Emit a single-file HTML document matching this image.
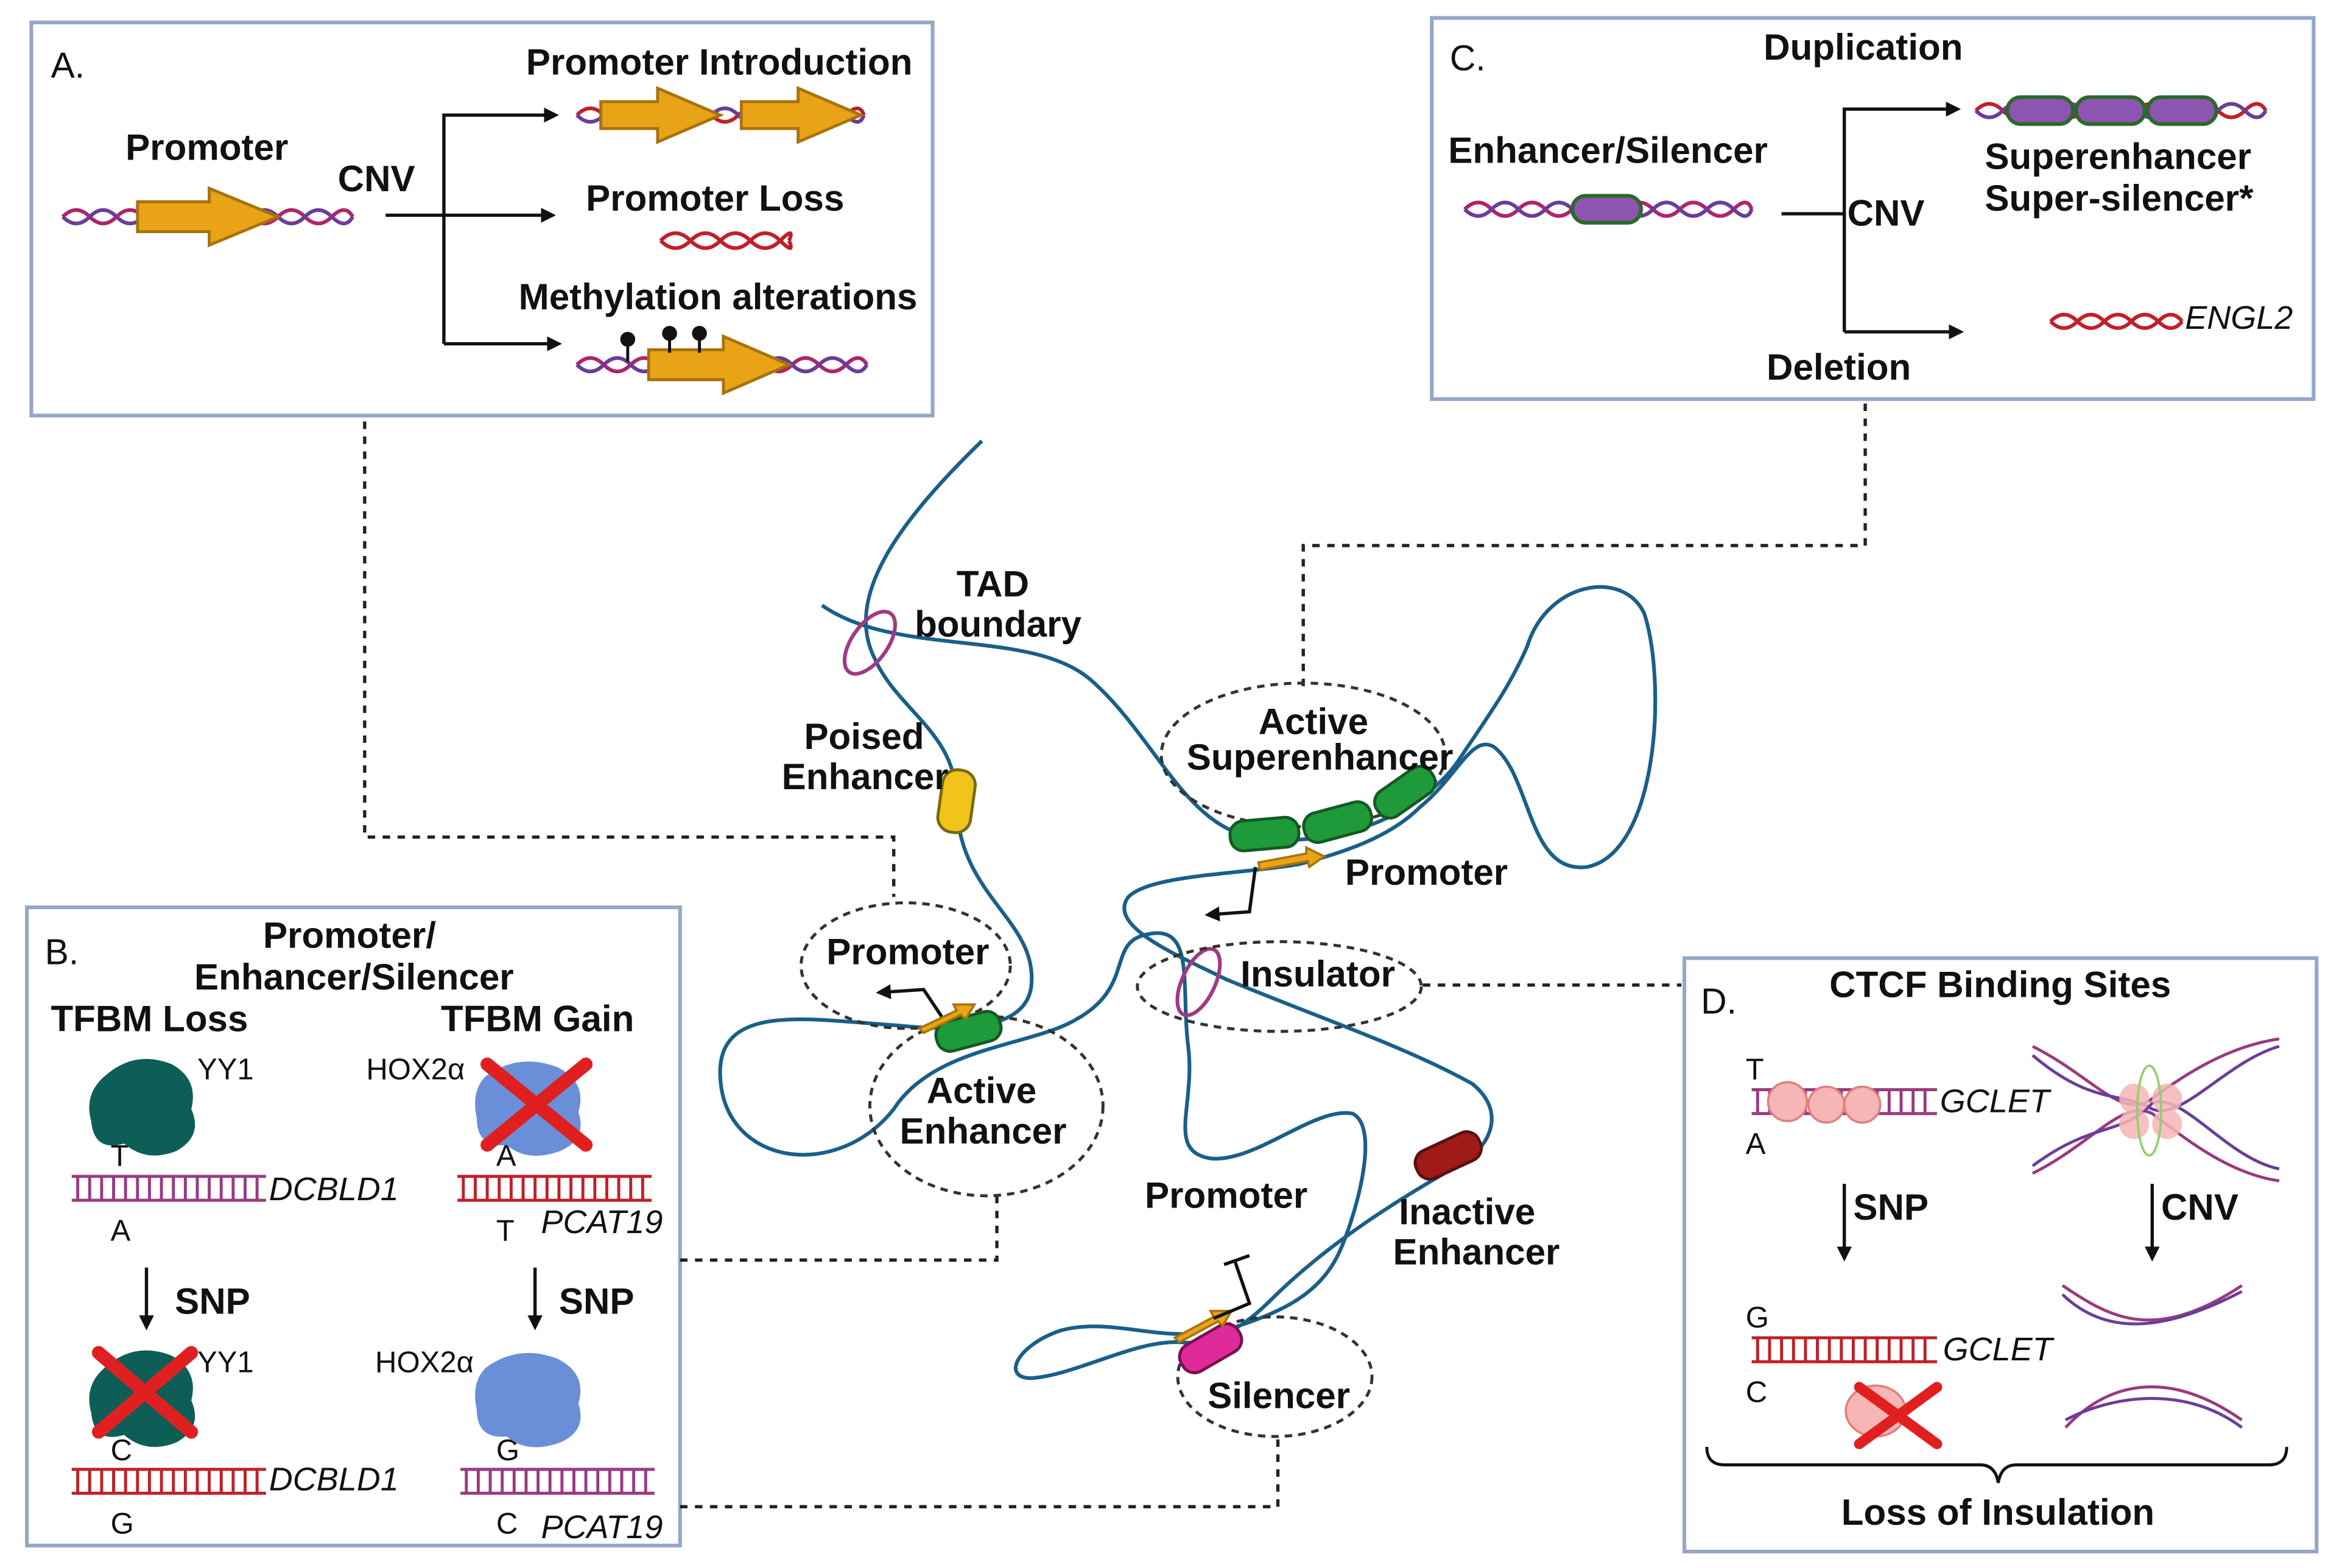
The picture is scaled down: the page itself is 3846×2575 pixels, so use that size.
<!DOCTYPE html>
<html><head><meta charset="utf-8">
<style>
html,body{margin:0;padding:0;background:#fff;}
svg{display:block;}
text{font-family:"Liberation Sans",sans-serif;fill:#111;}
.b{font-weight:bold;font-size:24.5px;}
.r{font-size:20px;}
.i{font-style:italic;font-size:22px;}
</style></head><body>
<svg width="3846" height="2575" viewBox="0 0 1567 1049" preserveAspectRatio="none" xmlns="http://www.w3.org/2000/svg">
<defs>
<marker id="ah" markerWidth="10" markerHeight="10" refX="8" refY="5" orient="auto" markerUnits="userSpaceOnUse"><path d="M0,0 L10,5 L0,10 z" fill="#111"/></marker>
</defs>
<rect width="1567" height="1049" fill="#fff"/>

<g fill="none" stroke="#95a7c9" stroke-width="2.5">
<rect x="21" y="15" width="603" height="263"/>
<rect x="18" y="607" width="437" height="427"/>
<rect x="958" y="12" width="590" height="255"/>
<rect x="1127" y="641" width="423" height="397"/>
</g>

<g fill="none" stroke="#222" stroke-width="2.2" stroke-dasharray="5,5">
<path d="M244,282 V560 H598 V600"/>
<path d="M455,843 H667 V800"/>
<path d="M455,1008 H855 V960"/>
<path d="M1248,270 V365 H872 V460"/>
<path d="M952,659 H1125"/>
</g>

<!-- ===== Box A ===== -->
<text x="34" y="52" class="r" style="font-size:24px">A.</text>
<text x="352" y="50" class="b">Promoter Introduction</text>
<text x="84" y="107" class="b">Promoter</text>
<text x="226" y="128" class="b">CNV</text>
<text x="392" y="141" class="b">Promoter Loss</text>
<text x="347" y="207" class="b">Methylation alterations</text>
<g fill="none" stroke-width="2.5">
<path d="M42,145 q9,-9 18,0 t18,0 t18,0 t18,0 t18,0 t18,0 t18,0 t18,0 t18,0 t18,0 t14,0" stroke="#b0246a"/>
<path d="M42,145 q9,9 18,0 t18,0 t18,0 t18,0 t18,0 t18,0 t18,0 t18,0 t18,0 t18,0 t14,0" stroke="#6a3d9a"/>
</g>
<path d="M92,135 H140 V126 L186,145 L140,164 V155 H92 z" fill="#e8a317" stroke="#a8720c" stroke-width="2"/>
<g fill="none" stroke="#111" stroke-width="2.2">
<path d="M258,144 H370" marker-end="url(#ah)"/>
<path d="M297,230 V77 H372" marker-end="url(#ah)"/>
<path d="M297,230 H374" marker-end="url(#ah)"/>
</g>
<g fill="none" stroke-width="2.5">
<path d="M386,77 q9,-9 18,0 t18,0 t18,0 t18,0 t18,0 t18,0 t18,0 t18,0 t18,0 t18,0 t12,0" stroke="#c0202a"/>
<path d="M386,77 q9,9 18,0 t18,0 t18,0 t18,0 t18,0 t18,0 t18,0 t18,0 t18,0 t18,0 t12,0" stroke="#6a3d9a"/>
</g>
<path d="M402,68 H440 V59 L482,77 L440,95 V86 H402 z" fill="#e8a317" stroke="#a8720c" stroke-width="2"/>
<path d="M496,68 H534 V59 L576,77 L534,95 V86 H496 z" fill="#e8a317" stroke="#a8720c" stroke-width="2"/>
<g fill="none" stroke="#c0202a" stroke-width="2.5">
<path d="M442,161 q10,-10 20,0 t20,0 t20,0 t20,0 t6,0"/>
<path d="M442,161 q10,10 20,0 t20,0 t20,0 t20,0 t6,0"/>
</g>
<g fill="none" stroke-width="2.5">
<path d="M386,244 q9,-9 18,0 t18,0 t18,0 t18,0 t18,0 t18,0 t18,0 t18,0 t18,0 t18,0 t14,0" stroke="#b0246a"/>
<path d="M386,244 q9,9 18,0 t18,0 t18,0 t18,0 t18,0 t18,0 t18,0 t18,0 t18,0 t18,0 t14,0" stroke="#6a3d9a"/>
</g>
<path d="M434,234 H484 V225 L528,244 L484,263 V254 H434 z" fill="#e8a317" stroke="#a8720c" stroke-width="2"/>
<g stroke="#111" stroke-width="2"><line x1="420" y1="228" x2="420" y2="242"/><line x1="448" y1="225" x2="448" y2="236"/><line x1="468" y1="225" x2="468" y2="236"/></g>
<g fill="#111"><circle cx="420" cy="227" r="5"/><circle cx="448" cy="223" r="5"/><circle cx="468" cy="223" r="5"/></g>

<!-- ===== Box C ===== -->
<text x="970" y="47" class="r" style="font-size:24px">C.</text>
<text x="1180" y="40" class="b">Duplication</text>
<text x="969" y="109" class="b">Enhancer/Silencer</text>
<text x="1236" y="151" class="b">CNV</text>
<text x="1328" y="113" class="b">Superenhancer</text>
<text x="1328" y="141" class="b">Super-silencer*</text>
<text x="1182" y="254" class="b">Deletion</text>
<text x="1462" y="220" class="i">ENGL2</text>
<g fill="none" stroke-width="2.5">
<path d="M980,140 q9,-9 18,0 t18,0 t18,0 t18,0 t18,0 t18,0 t18,0 t18,0 t18,0 t18,0 t12,0" stroke="#b0246a"/>
<path d="M980,140 q9,9 18,0 t18,0 t18,0 t18,0 t18,0 t18,0 t18,0 t18,0 t18,0 t18,0 t12,0" stroke="#6a3d9a"/>
<path d="M1322,74 q9,-9 18,0 t18,0 t18,0 t18,0 t18,0 t18,0 t18,0 t18,0 t18,0 t18,0 t14,0" stroke="#c0202a"/>
<path d="M1322,74 q9,9 18,0 t18,0 t18,0 t18,0 t18,0 t18,0 t18,0 t18,0 t18,0 t18,0 t14,0" stroke="#6a3d9a"/>
<path d="M1372,215 q9,-9 18,0 t18,0 t18,0 t18,0 t16,0" stroke="#c0202a"/>
<path d="M1372,215 q9,9 18,0 t18,0 t18,0 t18,0 t16,0" stroke="#c0202a"/>
</g>
<rect x="1052" y="131" width="46" height="18" rx="9" fill="#8e55b0" stroke="#2a6a2a" stroke-width="2.5"/>
<rect x="1343" y="65" width="44" height="18" rx="9" fill="#8e55b0" stroke="#2a6a2a" stroke-width="2.5"/>
<rect x="1389" y="65" width="46" height="18" rx="9" fill="#8e55b0" stroke="#2a6a2a" stroke-width="2.5"/>
<rect x="1437" y="65" width="46" height="18" rx="9" fill="#8e55b0" stroke="#2a6a2a" stroke-width="2.5"/>
<g fill="none" stroke="#111" stroke-width="2.2">
<path d="M1192,143 H1234"/>
<path d="M1234,222 V73 H1310" marker-end="url(#ah)"/>
<path d="M1234,222 H1312" marker-end="url(#ah)"/>
</g>

<!-- ===== Box B ===== -->
<text x="30" y="645" class="r" style="font-size:24px">B.</text>
<text x="176" y="634" class="b">Promoter/</text>
<text x="130" y="662" class="b">Enhancer/Silencer</text>
<text x="34" y="690" class="b">TFBM Loss</text>
<text x="295" y="690" class="b">TFBM Gain</text>
<text x="132" y="722" class="r">YY1</text>
<text x="245" y="722" class="r">HOX2α</text>
<text x="74" y="780" class="r">T</text>
<text x="74" y="830" class="r">A</text>
<text x="332" y="780" class="r">A</text>
<text x="332" y="830" class="r">T</text>
<text x="180" y="803" class="i">DCBLD1</text>
<text x="362" y="825" class="i">PCAT19</text>
<text x="117" y="879" class="b">SNP</text>
<text x="374" y="879" class="b">SNP</text>
<text x="132" y="918" class="r">YY1</text>
<text x="251" y="918" class="r">HOX2α</text>
<text x="74" y="977" class="r">C</text>
<text x="74" y="1026" class="r">G</text>
<text x="332" y="977" class="r">G</text>
<text x="332" y="1026" class="r">C</text>
<text x="180" y="997" class="i">DCBLD1</text>
<text x="362" y="1029" class="i">PCAT19</text>
<g stroke-width="2">
<g stroke="#9a3a80"><line x1="48" y1="787" x2="178" y2="787"/><line x1="48" y1="803" x2="178" y2="803"/><path d="M52,787 V803 M60,787 V803 M68,787 V803 M76,787 V803 M84,787 V803 M92,787 V803 M100,787 V803 M108,787 V803 M116,787 V803 M124,787 V803 M132,787 V803 M140,787 V803 M148,787 V803 M156,787 V803 M164,787 V803 M172,787 V803"/></g>
<g stroke="#c0202a"><line x1="306" y1="787" x2="436" y2="787"/><line x1="306" y1="803" x2="436" y2="803"/><path d="M310,787 V803 M318,787 V803 M326,787 V803 M334,787 V803 M342,787 V803 M350,787 V803 M358,787 V803 M366,787 V803 M374,787 V803 M382,787 V803 M390,787 V803 M398,787 V803 M406,787 V803 M414,787 V803 M422,787 V803 M430,787 V803"/></g>
<g stroke="#c0202a"><line x1="48" y1="983" x2="178" y2="983"/><line x1="48" y1="999" x2="178" y2="999"/><path d="M52,983 V999 M60,983 V999 M68,983 V999 M76,983 V999 M84,983 V999 M92,983 V999 M100,983 V999 M108,983 V999 M116,983 V999 M124,983 V999 M132,983 V999 M140,983 V999 M148,983 V999 M156,983 V999 M164,983 V999 M172,983 V999"/></g>
<g stroke="#9a3a80"><line x1="308" y1="983" x2="438" y2="983"/><line x1="308" y1="999" x2="438" y2="999"/><path d="M312,983 V999 M320,983 V999 M328,983 V999 M336,983 V999 M344,983 V999 M352,983 V999 M360,983 V999 M368,983 V999 M376,983 V999 M384,983 V999 M392,983 V999 M400,983 V999 M408,983 V999 M416,983 V999 M424,983 V999 M432,983 V999"/></g>
</g>
<path d="M70,720 q20,-18 45,-8 q18,10 13,30 q8,18 -10,28 q-20,8 -35,-5 q-20,6 -22,-15 q-5,-18 9,-30z" fill="#0d5e57"/>
<path d="M325,720 q22,-16 48,-6 q20,10 14,30 q6,18 -12,26 q-22,8 -36,-4 q-20,2 -20,-18 q-4,-18 6,-28z" fill="#6a8fd8"/>
<path d="M70,915 q20,-18 45,-8 q18,10 13,30 q8,18 -10,28 q-20,8 -35,-5 q-20,6 -22,-15 q-5,-18 9,-30z" fill="#0d5e57"/>
<path d="M325,915 q22,-16 48,-6 q20,10 14,30 q6,18 -12,26 q-22,8 -36,-4 q-20,2 -20,-18 q-4,-18 6,-28z" fill="#6a8fd8"/>
<g stroke="#e02020" stroke-width="9" stroke-linecap="round">
<line x1="326" y1="712" x2="392" y2="766"/><line x1="392" y1="712" x2="326" y2="766"/>
<line x1="66" y1="905" x2="128" y2="958"/><line x1="128" y1="905" x2="66" y2="958"/>
</g>
<g stroke="#111" stroke-width="2.2">
<line x1="98" y1="848" x2="98" y2="888" marker-end="url(#ah)"/>
<line x1="358" y1="848" x2="358" y2="888" marker-end="url(#ah)"/>
</g>

<!-- ===== Box D ===== -->
<text x="1138" y="678" class="r" style="font-size:24px">D.</text>
<text x="1224" y="667" class="b">CTCF Binding Sites</text>
<text x="1168" y="722" class="r">T</text>
<text x="1168" y="772" class="r">A</text>
<text x="1298" y="744" class="i">GCLET</text>
<text x="1240" y="816" class="b">SNP</text>
<text x="1446" y="816" class="b">CNV</text>
<text x="1168" y="888" class="r">G</text>
<text x="1168" y="938" class="r">C</text>
<text x="1300" y="910" class="i">GCLET</text>
<text x="1232" y="1020" class="b">Loss of Insulation</text>
<g stroke-width="2">
<g stroke="#9a3a80"><line x1="1172" y1="729" x2="1296" y2="729"/><line x1="1172" y1="745" x2="1296" y2="745"/><path d="M1176,729 V745 M1184,729 V745 M1192,729 V745 M1200,729 V745 M1208,729 V745 M1216,729 V745 M1224,729 V745 M1232,729 V745 M1240,729 V745 M1248,729 V745 M1256,729 V745 M1264,729 V745 M1272,729 V745 M1280,729 V745 M1288,729 V745"/></g>
<g stroke="#c0202a"><line x1="1172" y1="895" x2="1296" y2="895"/><line x1="1172" y1="911" x2="1296" y2="911"/><path d="M1176,895 V911 M1184,895 V911 M1192,895 V911 M1200,895 V911 M1208,895 V911 M1216,895 V911 M1224,895 V911 M1232,895 V911 M1240,895 V911 M1248,895 V911 M1256,895 V911 M1264,895 V911 M1272,895 V911 M1280,895 V911 M1288,895 V911"/></g>
</g>
<g fill="#f6b6b6" stroke="#e08080" stroke-width="1.5">
<circle cx="1196" cy="737" r="13"/><circle cx="1222" cy="739" r="12"/><circle cx="1246" cy="739" r="12"/>
<ellipse cx="1255" cy="944" rx="20" ry="17"/>
</g>
<g stroke="#e02020" stroke-width="7" stroke-linecap="round">
<line x1="1244" y1="928" x2="1296" y2="966"/><line x1="1296" y1="928" x2="1244" y2="966"/>
</g>
<g stroke="#111" stroke-width="2.2">
<line x1="1234" y1="792" x2="1234" y2="842" marker-end="url(#ah)"/>
<line x1="1440" y1="792" x2="1440" y2="842" marker-end="url(#ah)"/>
</g>
<g fill="none" stroke-width="2">
<path d="M1360,700 C1400,720 1420,750 1440,735 C1460,720 1490,700 1525,695" stroke="#9a3a80"/>
<path d="M1360,706 C1400,740 1420,730 1440,742 C1460,750 1490,710 1525,700" stroke="#6a3d9a"/>
<path d="M1360,785 C1400,765 1420,735 1440,745 C1460,760 1490,785 1525,790" stroke="#9a3a80"/>
<path d="M1360,780 C1400,750 1420,760 1440,738 C1460,730 1490,775 1525,782" stroke="#6a3d9a"/>
<path d="M1380,860 C1410,880 1440,900 1500,860" stroke="#9a3a80"/>
<path d="M1380,866 C1410,895 1450,890 1500,864" stroke="#6a3d9a"/>
<path d="M1382,955 C1410,925 1450,915 1500,950" stroke="#9a3a80"/>
<path d="M1382,950 C1410,935 1460,925 1500,955" stroke="#6a3d9a"/>
</g>
<g fill="#f6b6b6" opacity="0.85"><circle cx="1428" cy="735" r="10"/><circle cx="1450" cy="735" r="10"/><circle cx="1428" cy="752" r="10"/><circle cx="1450" cy="752" r="10"/></g>
<ellipse cx="1438" cy="743" rx="8" ry="30" fill="none" stroke="#8fcf6f" stroke-width="1.5"/>
<path d="M1142,968 q0,12 12,12 H1325 q10,0 12,12 q2,-12 12,-12 H1518 q12,0 12,-12" fill="none" stroke="#111" stroke-width="2"/>

<!-- ===== Center chromatin ===== -->
<g fill="none" stroke="#1a5f8a" stroke-width="2.5">
<path d="M657,295 C600,350 565,400 585,440 C600,475 640,490 640,535 C640,600 695,615 690,660 C686,690 640,690 600,686 C540,682 478,670 482,722 C486,780 560,790 598,742 C625,700 690,700 720,682 C760,660 740,630 768,625 C800,618 790,660 795,700 C800,740 780,770 810,775 C840,778 880,740 905,745 C925,755 905,820 895,840 C880,870 850,880 820,890"/>
<path d="M550,405 C600,440 690,420 730,455 C770,490 790,545 830,558 C890,572 950,545 975,510 C995,480 1010,460 1022,432 C1035,390 1085,380 1100,410 C1115,455 1110,570 1062,580 C1022,585 1025,520 1000,500 C985,490 975,520 950,540 C930,560 900,570 870,578 C830,585 770,585 755,600 C740,620 790,640 820,655 C880,680 940,700 985,725 C1010,745 995,770 975,780 C940,800 890,830 850,870 C830,890 810,900 790,898 C760,896 720,920 690,922 C670,922 680,900 710,890 C740,882 770,895 800,892"/>
</g>
<ellipse cx="582" cy="430" rx="12" ry="24" transform="rotate(35 582 430)" fill="none" stroke="#a03a80" stroke-width="2.5"/>
<ellipse cx="802" cy="657" rx="11" ry="24" transform="rotate(25 802 657)" fill="none" stroke="#a03a80" stroke-width="2.5"/>
<g fill="none" stroke="#333" stroke-width="2" stroke-dasharray="5,4">
<ellipse cx="606" cy="646" rx="70" ry="42"/>
<ellipse cx="660" cy="740" rx="78" ry="60"/>
<ellipse cx="872" cy="505" rx="95" ry="48"/>
<ellipse cx="856" cy="660" rx="95" ry="30"/>
<ellipse cx="853" cy="921" rx="65" ry="40"/>
</g>
<rect x="629" y="515" width="22" height="42" rx="10" transform="rotate(8 640 536)" fill="#f0c419" stroke="#7a6a10" stroke-width="2"/>
<g fill="#1e9a3a" stroke="#145a22" stroke-width="2">
<rect x="823" y="548" width="46" height="20" rx="9" transform="rotate(-5 846 558)"/>
<rect x="872" y="540" width="46" height="20" rx="9" transform="rotate(-15 895 550)"/>
<rect x="918" y="520" width="44" height="20" rx="9" transform="rotate(-35 940 530)"/>
<rect x="626" y="680" width="44" height="20" rx="9" transform="rotate(-15 648 690)"/>
</g>
<rect x="946" y="763" width="46" height="20" rx="9" transform="rotate(-25 969 773)" fill="#a01a1a" stroke="#5a1010" stroke-width="2"/>
<rect x="788" y="892" width="44" height="20" rx="9" transform="rotate(-30 810 902)" fill="#e02a9a" stroke="#7a1050" stroke-width="2"/>
<g fill="#e8a317" stroke="#a8720c" stroke-width="1.5">
<path d="M842,577 L874,571 L874,567 L886,573 L876,580 L875,576 L843,582 z"/>
<path d="M615,688 L640,676 L638,672 L652,672 L646,682 L643,679 L618,691 z"/>
<path d="M786,895 L812,881 L810,877 L824,877 L818,887 L815,884 L789,898 z"/>
</g>
<g fill="none" stroke="#111" stroke-width="2.2">
<path d="M840,580 L836,610 L808,612" marker-end="url(#ah)"/>
<path d="M630,680 L618,662 L588,664" marker-end="url(#ah)"/>
<path d="M812,882 L836,872 L826,843 M819,846 L836,840"/>
</g>
<text x="640" y="399" class="b">TAD</text>
<text x="612" y="426" class="b">boundary</text>
<text x="538" y="501" class="b">Poised</text>
<text x="523" y="528" class="b">Enhancer</text>
<text x="842" y="491" class="b">Active</text>
<text x="794" y="515" class="b">Superenhancer</text>
<text x="900" y="592" class="b">Promoter</text>
<text x="553" y="645" class="b">Promoter</text>
<text x="830" y="660" class="b">Insulator</text>
<text x="620" y="738" class="b">Active</text>
<text x="602" y="765" class="b">Enhancer</text>
<text x="766" y="808" class="b">Promoter</text>
<text x="936" y="819" class="b">Inactive</text>
<text x="932" y="846" class="b">Enhancer</text>
<text x="808" y="942" class="b">Silencer</text>
</svg>
</body></html>
